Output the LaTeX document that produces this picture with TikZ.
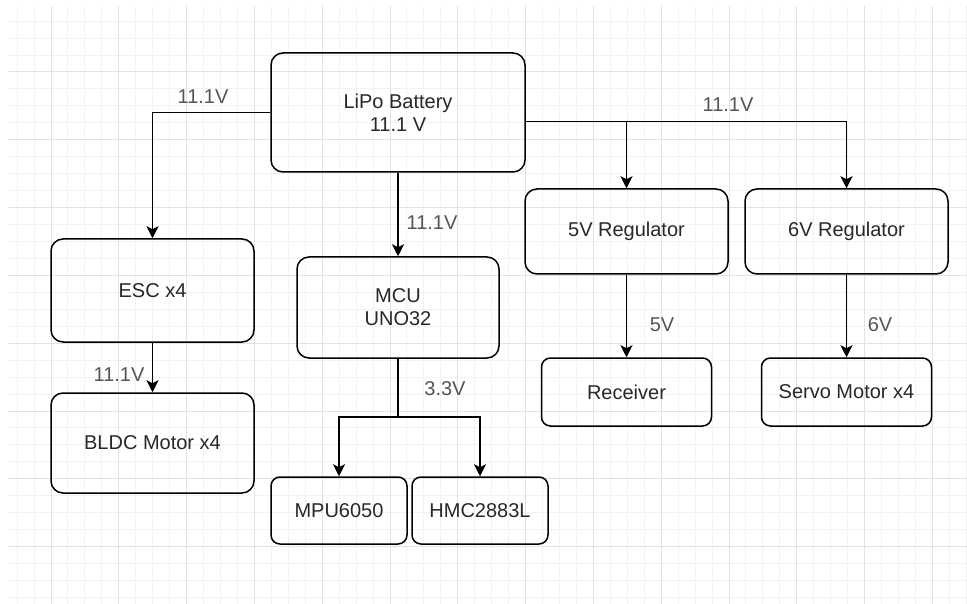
\documentclass[tikz,border=0pt]{standalone}
\usepackage{fontspec}
\setmainfont{Liberation Sans}
\usetikzlibrary{arrows.meta,positioning}
\definecolor{gridmajor}{RGB}{226,226,226}
\definecolor{gridminor}{RGB}{242,242,242}
\definecolor{boxtext}{RGB}{40,40,40}
\definecolor{volttext}{RGB}{85,85,85}

\begin{document}
\begin{tikzpicture}[x=1pt,y=-1pt,
		box/.style={draw,line width=1.5pt,rounded corners=12pt,inner sep=0pt,align=center,text=boxtext,font=\fontsize{20}{23}\selectfont},
		smallbox/.style={box,rounded corners=9pt},
		volt/.style={inner sep=0pt,text=volttext,font=\fontsize{20}{23}\selectfont},
		wire/.style={line width=1.5pt,-{Stealth[length=12pt,width=12pt,inset=3pt]}}]
		\useasboundingbox (0,0) rectangle (967,604);
		\fill[white] (0,0) rectangle (967,604);
		% grid
		\begin{scope}
			\clip (8,6) rectangle (967,604);
			\foreach \i in {-2,...,54}
				\draw[gridminor,line width=1pt] ({51+16.95*\i},6) -- ({51+16.95*\i},604);
			\foreach \j in {-3,...,31}
				\draw[gridminor,line width=1pt] (8,{72+16.95*\j}) -- (967,{72+16.95*\j});
			\foreach \k in {0,...,13}
				\draw[gridmajor,line width=1pt] ({51+67.8*\k},6) -- ({51+67.8*\k},604);
			\foreach \k in {0,...,7}
				\draw[gridmajor,line width=1pt] (8,{72+67.8*\k}) -- (967,{72+67.8*\k});
		\end{scope}
		% blocks
		\node(bat)   [box,minimum width=254pt,minimum height=119pt] at (398,112.5) {LiPo Battery\\11.1 V};
		\node(esc)   [box,minimum width=203pt,minimum height=103pt] at (152.5,290.5) {ESC x4};
		\node(mcu)   [box,minimum width=202pt,minimum height=101pt] at (398,307.5) {MCU\\UNO32};
		\node(reg5)  [box,minimum width=203pt,minimum height=85pt] at (626.5,231.5) {5V Regulator};
		\node(reg6)  [box,minimum width=203pt,minimum height=85pt] at (846.5,231.5) {6V Regulator};
		\node(bldc)  [box,minimum width=203pt,minimum height=100pt] at (152.5,443) {BLDC Motor x4};
		\node(mpu)   [smallbox,minimum width=136pt,minimum height=67pt] at (339,510.5) {MPU6050};
		\node(hmc)   [smallbox,minimum width=136pt,minimum height=67pt] at (480,510.5) {HMC2883L};
		\node(rcv)   [smallbox,minimum width=170pt,minimum height=68pt] at (626.5,392) {Receiver};
		\node(servo) [smallbox,minimum width=170pt,minimum height=68pt] at (846.5,392) {Servo Motor x4};
		% power lines
		\coordinate (tap) at ([yshift=-9pt]bat.east);
		\coordinate (split) at (398,417);
		\draw[wire] (bat.west) -| (esc);
		\draw[wire] (bat) -- (mcu);
		\draw[wire] (tap) -| (reg6);
		\draw[wire] (tap -| reg5) -- (reg5);
		\draw[wire] (esc) -- (bldc);
		\draw[wire] (reg5) -- (rcv);
		\draw[wire] (reg6) -- (servo);
		\draw[line width=1.5pt] (mcu) -- (split);
		\draw[wire] (split) -| (mpu);
		\draw[wire] (split) -| (hmc);
		% voltages
		\node(v1) [volt] at (203,97) {11.1V};
		\node(v2) [volt] at (432,223) {11.1V};
		\node(v3) [volt] at (728,105) {11.1V};
		\node(v4) [volt] at (119,375) {11.1V};
		\node(v5) [volt] at (445,389) {3.3V};
		\node(v6) [volt] at (662,325) {5V};
		\node(v7) [volt] at (880,325) {6V};
	\end{tikzpicture}
\end{document}
